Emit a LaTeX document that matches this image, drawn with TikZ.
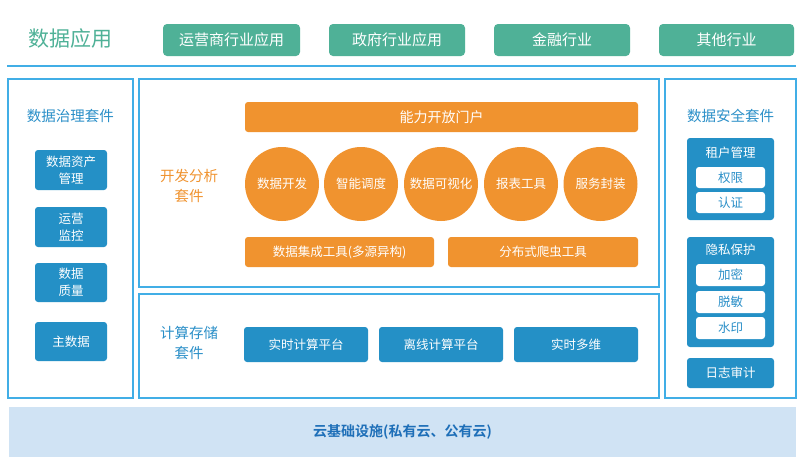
\documentclass[tikz,border=0pt]{standalone}
\usepackage{fontspec}
\setmainfont{Noto Sans CJK SC}
\newfontfamily\cjkbold{Noto Sans CJK SC Bold}
\definecolor{appgreen}{HTML}{4FB197}
\definecolor{boxblue}{HTML}{2490C6}
\definecolor{lineblue}{HTML}{41AEE6}
\definecolor{orange}{HTML}{F0932F}
\definecolor{barblue}{HTML}{D0E3F4}
\definecolor{bartext}{HTML}{1E6FB8}
\definecolor{labelblue}{HTML}{2A8FC8}
\begin{document}
\begin{tikzpicture}[x=1pt,y=-1pt,
  appbox/.style={fill=appgreen, rounded corners=4pt, text=white, inner sep=0pt, font=\fontsize{15}{17}\selectfont},
  panel/.style={draw=lineblue, line width=1.6pt, inner sep=0pt},
  bluebox/.style={fill=boxblue, rounded corners=3pt, text=white, inner sep=0pt, align=center, font=\fontsize{12.5}{17}\selectfont},
  whitebox/.style={fill=white, rounded corners=3pt, text=labelblue, inner sep=0pt, font=\fontsize{12.5}{15}\selectfont},
  orangebar/.style={fill=orange, rounded corners=3pt, text=white, inner sep=0pt, font=\fontsize{12.5}{15}\selectfont},
  orangecircle/.style={circle, fill=orange, text=white, inner sep=0pt, minimum size=74pt, font=\fontsize{12.5}{15}\selectfont},
  panellabel/.style={inner sep=0pt, font=\fontsize{14.5}{20}\selectfont, align=center},
  grouplabel/.style={inner sep=0pt, text=white, font=\fontsize{12.5}{15}\selectfont}
]
\useasboundingbox (0,0) rectangle (800,464);
\fill[white] (0,0) rectangle (800,464);

% top row
\node[inner sep=0pt, text=appgreen, font=\fontsize{21}{24}\selectfont] (title) at (70.5,39) {数据应用};
\node[appbox, minimum width=137pt, minimum height=32pt] (app1) at (231.5,40) {运营商行业应用};
\node[appbox, minimum width=136pt, minimum height=32pt] (app2) at (397,40) {政府行业应用};
\node[appbox, minimum width=136pt, minimum height=32pt] (app3) at (562,40) {金融行业};
\node[appbox, minimum width=135pt, minimum height=32pt] (app4) at (726.5,40) {其他行业};
\coordinate (sepL) at (7,66);
\coordinate (sepR) at (796,66);
\draw[lineblue, line width=1.8pt] (sepL) -- (sepR);

% panels
\node[panel, minimum width=125pt, minimum height=319pt] (left) at (70.5,238.5) {};
\node[panel, minimum width=520pt, minimum height=208pt] (midtop) at (399,183) {};
\node[panel, minimum width=520pt, minimum height=104pt] (midbot) at (399,346) {};
\node[panel, minimum width=131pt, minimum height=319pt] (right) at (730.5,238.5) {};
\node[fill=barblue, inner sep=0pt, minimum width=787pt, minimum height=50pt] (cloud) at (402.5,432) {};
\node[inner sep=0pt, text=bartext, font=\cjkbold\fontsize{14}{16}\selectfont] (cloudtext) at (402.5,432) {云基础设施(私有云、公有云)};

% left panel
\node[panellabel, text=labelblue] (govlabel) at (70.5,116) {数据治理套件};
\node[bluebox, minimum width=72pt, minimum height=40pt] (gov1) at (71,170) {数据资产\\管理};
\node[bluebox, minimum width=72pt, minimum height=40pt] (gov2) at (71,227) {运营\\监控};
\node[bluebox, minimum width=72pt, minimum height=39pt] (gov3) at (71,282.5) {数据\\质量};
\node[bluebox, minimum width=72pt, minimum height=39pt] (gov4) at (71,341.5) {主数据};

% middle top
\node[panellabel, text=orange] (devlabel) at (189,186) {开发分析\\套件};
\node[orangebar, minimum width=393pt, minimum height=30pt, font=\fontsize{14}{16}\selectfont] (portal) at (441.5,117) {能力开放门户};
\node[orangecircle] (c1) at (282,184) {数据开发};
\node[orangecircle] (c2) at (361,184) {智能调度};
\node[orangecircle] (c3) at (441,184) {数据可视化};
\node[orangecircle] (c4) at (521,184) {报表工具};
\node[orangecircle] (c5) at (600.5,184) {服务封装};
\node[orangebar, minimum width=189pt, minimum height=30pt] (integ) at (339.5,252) {数据集成工具(多源异构)};
\node[orangebar, minimum width=190pt, minimum height=30pt] (crawl) at (543,252) {分布式爬虫工具};

% middle bottom
\node[panellabel, text=labelblue] (complabel) at (189,343) {计算存储\\套件};
\node[bluebox, minimum width=124pt, minimum height=35pt] (rt) at (306,344.5) {实时计算平台};
\node[bluebox, minimum width=124pt, minimum height=35pt] (off) at (441,344.5) {离线计算平台};
\node[bluebox, minimum width=124pt, minimum height=35pt] (olap) at (576,344.5) {实时多维};

% right panel
\node[panellabel, text=labelblue] (seclabel) at (730.5,116) {数据安全套件};
\node[bluebox, minimum width=87pt, minimum height=82pt] (tenant) at (730.5,179) {};
\node[grouplabel] (tenantlabel) at (730.5,153) {租户管理};
\node[whitebox, minimum width=69pt, minimum height=21pt] (perm) at (730.5,177.5) {权限};
\node[whitebox, minimum width=69pt, minimum height=21pt] (auth) at (730.5,202.5) {认证};
\node[bluebox, minimum width=87pt, minimum height=110pt] (privacy) at (730.5,292) {};
\node[grouplabel] (privlabel) at (730.5,250) {隐私保护};
\node[whitebox, minimum width=69pt, minimum height=22pt] (enc) at (730.5,275) {加密};
\node[whitebox, minimum width=69pt, minimum height=22pt] (mask) at (730.5,302) {脱敏};
\node[whitebox, minimum width=69pt, minimum height=22pt] (mark) at (730.5,328) {水印};
\node[bluebox, minimum width=87pt, minimum height=30pt] (audit) at (730.5,373) {日志审计};
\end{tikzpicture}
\end{document}
